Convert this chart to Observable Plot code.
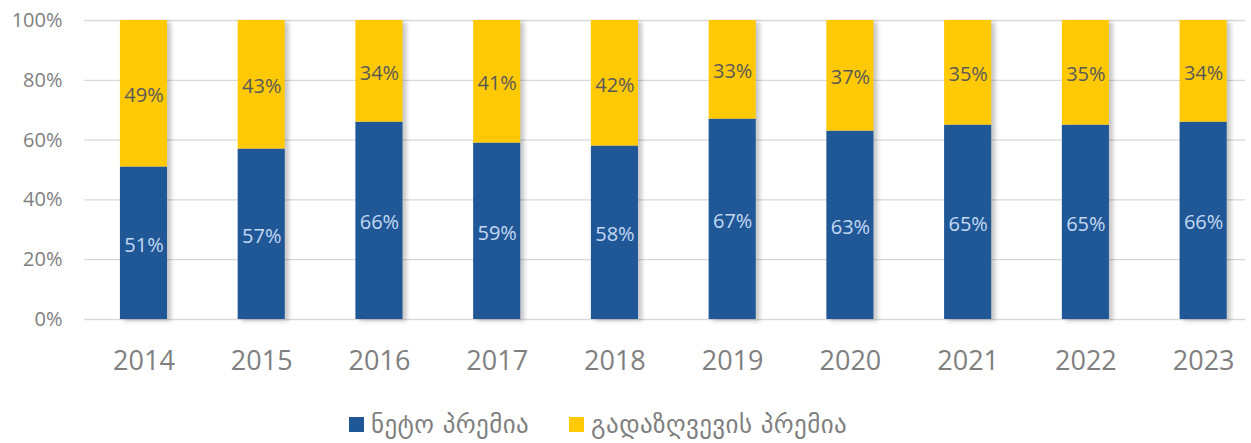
<!DOCTYPE html>
<html><head><meta charset="utf-8">
<script src="https://cdn.jsdelivr.net/npm/d3@7"></script>
<script src="https://cdn.jsdelivr.net/npm/@observablehq/plot@0.6"></script>
<style>
body{margin:0;background:#fff;font-family:"Open Sans","DejaVu Sans",sans-serif;}
#legend{display:flex;align-items:center;height:53px;padding-top:8px;padding-left:349px;font-family:"DejaVu Sans",sans-serif;font-size:25px;letter-spacing:0.4px;color:#7f7f7f;}
.sw{width:15px;height:15px;display:inline-block;margin-right:7px}
.it{display:flex;align-items:center;margin-right:40px}
</style></head>
<body>
<div id="chart"></div>
<div id="legend"></div>
<script>
const years = ["2014","2015","2016","2017","2018","2019","2020","2021","2022","2023"];
const netPremium = [51,57,66,59,58,67,63,65,65,66];
const cededPremium = [49,43,34,41,42,33,37,35,35,34];
const seriesNames = ["ნეტო პრემია","გადაზღვევის პრემია"];
const colors = ["#1F5797","#FFC906"];
const labelColors = ["#C5D9F1","#595959"];

const data = [];
years.forEach((y,i)=>{
  data.push({year:y, series:seriesNames[0], value:netPremium[i]});
  data.push({year:y, series:seriesNames[1], value:cededPremium[i]});
});

const chart = Plot.plot({
  width:1251, height:390,
  marginLeft:84, marginRight:6, marginTop:20, marginBottom:71,
  style:{fontFamily:"'Open Sans', 'DejaVu Sans', sans-serif", background:"#fff"},
  x:{domain:years, range:[84.6,1262], paddingInner:0.6, paddingOuter:0.3, round:false, label:null},
  y:{domain:[0,100], ticks:[0,20,40,60,80,100], label:null},
  color:{domain:seriesNames, range:colors},
  marks:[
    Plot.ruleY([0,20,40,60,80,100],{stroke:"#d9d9d9",strokeWidth:1.3}),
    Plot.axisY({ticks:[0,20,40,60,80,100], tickSize:0, tickPadding:22, tickFormat:d=>d+"%", fontSize:20, color:"#7f7f7f"}),
    Plot.axisX({tickSize:0, tickPadding:31, fontSize:27, color:"#7f7f7f"}),
    Plot.barY(data, Plot.stackY({x:"year", y:"value", z:"series", fill:"#000", fillOpacity:0.22, dx:4, dy:2, imageFilter:"blur(2px)", order:seriesNames})),
    Plot.barY(data, Plot.stackY({x:"year", y:"value", z:"series", fill:"series", order:seriesNames})),
    Plot.text(data, Plot.stackY({x:"year", y:"value", z:"series", order:seriesNames, text:d=>d.value+"%", fill:d=>d.series===seriesNames[0]?labelColors[0]:labelColors[1], fontSize:20, dy:2}))
  ]
});
document.getElementById("chart").appendChild(chart);

const lg = document.getElementById("legend");
seriesNames.forEach((s,i)=>{
  const it=document.createElement("span"); it.className="it";
  const sw=document.createElement("span"); sw.className="sw"; sw.style.background=colors[i];
  it.appendChild(sw); it.appendChild(document.createTextNode(s)); lg.appendChild(it);
});
</script>
</body></html>
